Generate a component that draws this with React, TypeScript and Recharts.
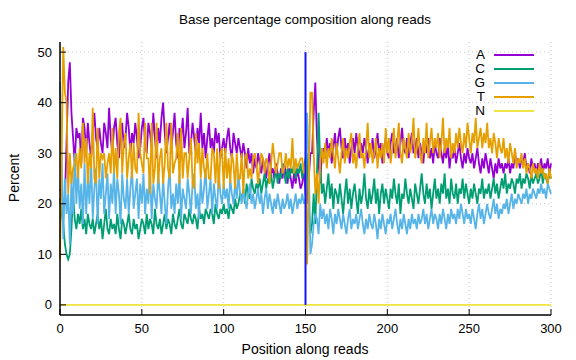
import React from "react";
import {
  LineChart,
  Line,
  XAxis,
  YAxis,
  CartesianGrid,
  ReferenceLine,
} from "recharts";

// base percentage per position (0..300)
const baseA = [
  23, 22, 20, 21, 32, 44, 48, 38, 33, 28, 35,
  33, 34, 28, 37, 35, 30, 36, 32, 29, 34,
  38, 33, 31, 35, 32, 30, 36, 34, 31, 39,
  33, 30, 35, 37, 32, 29, 34, 36, 31, 33,
  38, 35, 30, 34, 32, 36, 33, 29, 31, 35,
  37, 32, 30, 36, 34, 31, 38, 33, 29, 35,
  32, 37, 40, 34, 30, 33, 36, 31, 34, 38,
  32, 29, 35, 33, 37, 31, 34, 39, 30, 32,
  36, 33, 30, 35, 32, 38, 31, 34, 29, 33,
  36, 31, 33, 30, 35, 32, 34, 29, 31, 33,
  30, 33, 35, 31, 29, 34, 32, 30, 33, 31,
  29, 32, 30, 27, 31, 28, 30, 26, 29, 27,
  30, 28, 26, 29, 27, 25, 28, 30, 26, 27,
  25, 28, 26, 24, 27, 25, 28, 26, 24, 27,
  25, 23, 26, 24, 27, 25, 23,
  24, 27, 22, 20, 25, 30, 30, 38, 44, 33, 28, 24, 30,
  31, 29, 33, 30, 32, 28, 31, 34, 30, 33,
  35, 31, 29, 33, 30, 32, 28, 31, 33, 30,
  34, 31, 29, 32, 30, 33, 31, 28, 32, 30,
  33, 29, 31, 34, 30, 32, 28, 31, 33, 30,
  29, 32, 34, 30, 31, 33, 29, 32, 35, 31,
  30, 33, 29, 32, 34, 30, 31, 33, 29, 32,
  30, 28, 32, 30, 33, 29, 31, 28, 32, 30,
  29, 33, 30, 28, 31, 29, 32, 27, 30, 29,
  31, 28, 30, 32, 29, 27, 30, 28, 31, 29,
  28, 30, 27, 29, 31, 28, 26, 29, 27, 30,
  28, 26, 29, 27, 25, 28, 26, 29, 27, 28,
  26, 28, 27, 29, 26, 28, 27, 30, 28, 29,
  27, 29, 28, 30, 27, 28, 26, 29, 27, 28,
  26, 28, 27, 29, 26, 28, 27, 29, 26, 28,
];

const baseC = [
  21, 18, 16, 12, 10, 9, 10, 15, 22, 17, 15,
  18, 16, 19, 15, 17, 14, 18, 16, 15, 17,
  14, 16, 18, 15, 17, 13, 16, 19, 15, 14,
  17, 15, 16, 14, 18, 15, 13, 17, 16, 14,
  16, 18, 15, 14, 17, 15, 16, 13, 15, 17,
  16, 14, 18, 15, 17, 16, 14, 19, 16, 15,
  17, 14, 16, 18, 15, 17, 16, 14, 18, 16,
  15, 17, 19, 16, 15, 18, 17, 16, 19, 17,
  16, 18, 17, 15, 19, 17, 18, 16, 19, 18,
  17, 19, 18, 16, 20, 18, 17, 19, 18, 20,
  18, 19, 17, 20, 19, 18, 21, 19, 20, 22,
  21, 23, 20, 24, 22, 21, 25, 23, 22, 24,
  23, 25, 22, 24, 26, 23, 25, 24, 26, 23,
  25, 27, 24, 26, 25, 28, 26, 24, 27, 25,
  27, 26, 28, 25, 27, 26, 28,
  25, 27, 29, 30, 20, 14, 16, 22, 16, 26, 38, 28, 22,
  24, 20, 23, 26, 21, 24, 19, 23, 22, 20,
  24, 21, 18, 22, 25, 20, 23, 19, 22, 24,
  21, 18, 23, 20, 22, 26, 21, 19, 23, 20,
  22, 25, 20, 23, 18, 22, 24, 20, 23, 21,
  19, 23, 21, 25, 22, 20, 24, 18, 22, 21,
  25, 22, 20, 23, 21, 19, 24, 22, 20, 23,
  26, 22, 20, 24, 21, 23, 19, 22, 25, 21,
  23, 20, 24, 22, 26, 21, 23, 20, 25, 22,
  21, 24, 20, 23, 22, 25, 21, 24, 22, 20,
  23, 21, 24, 22, 20, 23, 22, 25, 21, 23,
  22, 24, 21, 23, 25, 22, 24, 21, 23, 25,
  23, 26, 22, 24, 23, 25, 24, 22, 25, 24,
  26, 23, 25, 24, 26, 25, 23, 26, 24, 25,
  26, 24, 25, 27, 24, 26, 25, 24, 26, 25,
];

const baseG = [
  44, 30, 13, 25, 18, 22, 12, 25, 18, 30, 20,
  27, 19, 24, 16, 28, 18, 25, 20, 29, 17,
  23, 27, 16, 25, 21, 28, 18, 22, 26, 17,
  24, 20, 27, 18, 25, 22, 16, 26, 21, 19,
  25, 18, 23, 27, 19, 22, 25, 17, 24, 20,
  26, 18, 23, 20, 27, 17, 24, 21, 19, 26,
  22, 18, 25, 20, 16, 23, 27, 19, 22, 18,
  24, 20, 26, 17, 23, 21, 19, 25, 22, 18,
  24, 26, 19, 22, 17, 25, 20, 23, 27, 19,
  22, 25, 18, 24, 21, 19, 26, 22, 20, 24,
  21, 23, 19, 25, 22, 20, 24, 21, 26, 22,
  20, 23, 21, 19, 22, 24, 20, 22, 19, 21,
  23, 20, 22, 18, 21, 23, 19, 22, 20, 18,
  21, 19, 22, 20, 18, 21, 19, 20, 22, 19,
  21, 18, 20, 22, 19, 21, 20,
  22, 20, 21, 38, 28, 10, 12, 16, 18, 17, 14, 20, 17,
  19, 16, 18, 15, 19, 17, 14, 18, 16, 19,
  17, 15, 18, 16, 14, 17, 19, 15, 17, 16,
  18, 15, 17, 19, 16, 14, 17, 15, 18, 16,
  15, 18, 16, 13, 17, 15, 18, 16, 14, 17,
  16, 18, 15, 17, 19, 16, 14, 17, 15, 18,
  16, 14, 17, 15, 18, 16, 17, 15, 18, 16,
  17, 19, 16, 18, 15, 17, 19, 16, 18, 17,
  15, 18, 16, 19, 17, 15, 18, 16, 19, 17,
  18, 16, 19, 17, 20, 18, 16, 19, 17, 18,
  16, 19, 17, 15, 18, 20, 17, 19, 16, 18,
  20, 18, 17, 19, 21, 18, 20, 17, 19, 18,
  20, 19, 21, 18, 20, 22, 19, 21, 20, 22,
  21, 20, 22, 21, 23, 20, 22, 21, 23, 22,
  21, 23, 22, 24, 22, 23, 21, 24, 23, 22,
];

const baseT = [
  9, 30, 51, 42, 40, 22, 30, 24, 27, 28, 30,
  25, 31, 27, 36, 28, 33, 24, 30, 27, 39,
  25, 24, 35, 25, 30, 29, 30, 25, 28, 30,
  26, 35, 26, 31, 25, 34, 37, 26, 32, 34,
  25, 29, 32, 25, 32, 27, 26, 38, 30, 28,
  26, 36, 29, 29, 22, 36, 24, 27, 36, 24,
  29, 31, 24, 28, 36, 27, 25, 36, 26, 28,
  29, 34, 24, 35, 25, 30, 30, 25, 29, 33,
  24, 23, 34, 28, 32, 25, 31, 27, 25, 30,
  25, 25, 31, 30, 24, 31, 23, 30, 31, 23,
  31, 25, 29, 24, 30, 28, 23, 30, 25, 25,
  30, 22, 29, 30, 25, 27, 25, 29, 30, 28,
  24, 27, 30, 29, 26, 29, 28, 24, 28, 32,
  29, 26, 28, 30, 30, 26, 27, 30, 27, 29,
  27, 33, 26, 29, 27, 28, 29,
  29, 26, 28, 8, 25, 42, 42, 30, 22, 26, 20, 28, 31,
  28, 32, 27, 31, 29, 33, 30, 27, 32, 29,
  26, 30, 33, 28, 31, 29, 32, 34, 28, 30,
  27, 31, 34, 29, 30, 27, 31, 36, 29, 32,
  28, 30, 33, 27, 31, 29, 32, 28, 35, 30,
  33, 28, 31, 35, 29, 32, 36, 30, 28, 33,
  31, 29, 34, 30, 32, 37, 29, 31, 35, 30,
  28, 33, 30, 36, 29, 32, 35, 30, 33, 31,
  34, 29, 32, 37, 30, 33, 31, 35, 29, 32,
  30, 34, 31, 35, 32, 30, 34, 31, 36, 33,
  30, 34, 32, 37, 31, 33, 35, 31, 34, 32,
  36, 31, 33, 30, 34, 32, 29, 33, 31, 30,
  33, 29, 31, 28, 32, 30, 28, 31, 27, 29,
  28, 30, 27, 29, 26, 28, 27, 25, 28, 26,
  27, 25, 28, 26, 27, 25, 26, 24, 27, 25,
];

// N stays at zero all along
const baseN = baseA.map(() => 0);

const xTicks = [0, 50, 100, 150, 200, 250, 300];
const yTicks = [0, 10, 20, 30, 40, 50];

const series = [
  { key: "A", values: baseA, color: "#9400d3" },
  { key: "C", values: baseC, color: "#009e73" },
  { key: "G", values: baseG, color: "#56b4e9" },
  { key: "T", values: baseT, color: "#e69f00" },
  { key: "N", values: baseN, color: "#f0e442" },
];

const data = baseA.map((_, i) => {
  const row: Record<string, number> = { pos: i };
  series.forEach((s) => (row[s.key] = s.values[i]));
  return row;
});

const FONT = "'Liberation Sans', Arial, sans-serif";

const LeftTick = ({ x, y, payload }: any) => (
  <g>
    <line x1={x + 8} x2={x + 14} y1={y} y2={y} stroke="#000" strokeWidth={1} />
    <text x={x} y={y} dy={4.5} textAnchor="end" fontSize={13} fontFamily={FONT} fill="#000">
      {payload.value}
    </text>
  </g>
);

const RightTick = ({ x, y }: any) => (
  <line x1={x - 6} x2={x} y1={y} y2={y} stroke="#000" strokeWidth={1} />
);

const BottomTick = ({ x, y, payload }: any) => (
  <g>
    <line x1={x} x2={x} y1={y - 6} y2={y - 12} stroke="#000" strokeWidth={1} />
    <text x={x} y={y} dy={12} textAnchor="middle" fontSize={13} fontFamily={FONT} fill="#000">
      {payload.value}
    </text>
  </g>
);

const TopTick = ({ x, y }: any) => (
  <line x1={x} x2={x} y1={y} y2={y + 6} stroke="#000" strokeWidth={1} />
);

export default function App() {
  return (
    <div
      style={{
        position: "absolute",
        left: 0,
        top: 0,
        width: 576,
        height: 360,
        background: "#fff",
        fontFamily: FONT,
      }}
    >
      <LineChart
        width={576}
        height={360}
        data={data}
        margin={{ top: 42, right: 25, left: 0, bottom: 0 }}
      >
        <CartesianGrid
          stroke="#c4c4c4"
          strokeDasharray="1 3"
          horizontalValues={yTicks}
          verticalValues={xTicks}
        />
        <XAxis
          dataKey="pos"
          type="number"
          domain={[0, 300]}
          ticks={xTicks}
          height={45}
          tickSize={0}
          tickMargin={6}
          tick={<BottomTick />}
          axisLine={{ stroke: "#000", strokeWidth: 1.5 }}
          tickLine={false}
        />
        <XAxis
          xAxisId="top"
          dataKey="pos"
          type="number"
          orientation="top"
          domain={[0, 300]}
          ticks={xTicks}
          height={0}
          tickSize={0}
          tickMargin={0}
          tick={<TopTick />}
          axisLine={{ stroke: "#000", strokeWidth: 1.5 }}
          tickLine={false}
        />
        <YAxis
          type="number"
          domain={[-2, 52]}
          ticks={yTicks}
          width={60}
          tickSize={0}
          tickMargin={8}
          tick={<LeftTick />}
          axisLine={{ stroke: "#000", strokeWidth: 1.5 }}
          tickLine={false}
        />
        <YAxis
          yAxisId="right"
          orientation="right"
          type="number"
          domain={[-2, 52]}
          ticks={yTicks}
          width={0}
          tickSize={0}
          tickMargin={0}
          tick={<RightTick />}
          axisLine={{ stroke: "#000", strokeWidth: 1.5 }}
          tickLine={false}
        />
        {series.map((s) => (
          <Line
            key={s.key}
            dataKey={s.key}
            stroke={s.color}
            strokeWidth={1.8}
            dot={false}
            activeDot={false}
            isAnimationActive={false}
          />
        ))}
        <ReferenceLine
          segment={[
            { x: 150, y: 0 },
            { x: 150, y: 50 },
          ]}
          stroke="#1414ff"
          strokeWidth={2}
        />
      </LineChart>

      <div
        style={{
          position: "absolute",
          left: 0,
          top: 12,
          width: 610,
          textAlign: "center",
          fontSize: 13.5,
        }}
      >
        Base percentage composition along reads
      </div>
      <div
        style={{
          position: "absolute",
          left: 0,
          top: 341,
          width: 610,
          textAlign: "center",
          fontSize: 14,
        }}
      >
        Position along reads
      </div>
      <div
        style={{
          position: "absolute",
          left: 14,
          top: 178,
          fontSize: 14,
          transform: "translate(-50%, -50%) rotate(-90deg)",
          whiteSpace: "nowrap",
        }}
      >
        Percent
      </div>
      <div style={{ position: "absolute", left: 440, top: 48 }}>
        {series.map((s) => (
          <div
            key={s.key}
            style={{ display: "flex", alignItems: "center", height: 14 }}
          >
            <span
              style={{
                width: 45,
                textAlign: "right",
                fontSize: 13.5,
                lineHeight: "14px",
                height: 14,
              }}
            >
              {s.key}
            </span>
            <span
              style={{
                marginLeft: 9,
                width: 40,
                height: 2,
                background: s.color,
              }}
            />
          </div>
        ))}
      </div>
    </div>
  );
}
